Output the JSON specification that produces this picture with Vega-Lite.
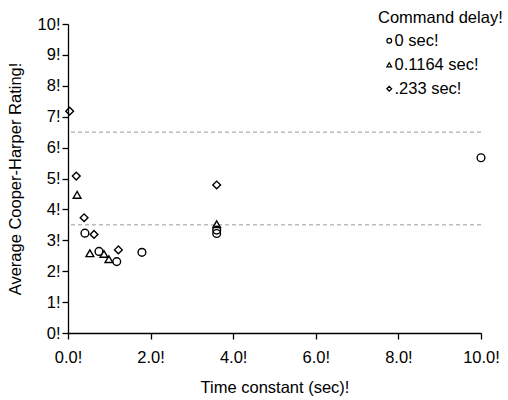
{
  "$schema": "https://vega.github.io/schema/vega-lite/v6.json",
  "width": 413,
  "height": 309,
  "autosize": {"type": "none"},
  "padding": {"left": 68, "top": 24, "right": 27, "bottom": 67},
  "background": "white",
  "config": {
    "font": "Liberation Sans",
    "view": {"stroke": null},
    "axis": {
      "grid": false,
      "domainColor": "black",
      "domainWidth": 1.3,
      "tickColor": "black",
      "tickWidth": 1.3,
      "tickSize": 6,
      "labelColor": "black",
      "labelFontSize": 16.5,
      "labelOverlap": false,
      "labelFlush": false,
      "labelBound": false,
      "titleColor": "black",
      "titleFontSize": 16.5,
      "titleFontWeight": "normal"
    },
    "legend": {
      "titleFontSize": 16.5,
      "titleFontWeight": "normal",
      "titleColor": "black",
      "labelFontSize": 16.5,
      "labelColor": "black"
    }
  },
  "encoding": {
    "y": {
      "field": "rating",
      "type": "quantitative",
      "scale": {"domain": [0, 10], "nice": false},
      "axis": {
        "title": "Average Cooper-Harper Rating!",
        "values": [0, 1, 2, 3, 4, 5, 6, 7, 8, 9, 10],
        "labelExpr": "datum.value + '!'",
        "labelPadding": 2,
        "titlePadding": 14,
        "labelOverlap": false
      }
    }
  },
  "layer": [
    {
      "data": {"values": [{"rating": 6.5}, {"rating": 3.5}]},
      "mark": {"type": "rule", "color": "#999999", "strokeDash": [4, 3], "strokeWidth": 1},
      "encoding": {}
    },
    {
      "data": {
        "values": [
          {"t": 0.41, "rating": 3.23, "delay": "0 sec!"},
          {"t": 0.75, "rating": 2.64, "delay": "0 sec!"},
          {"t": 1.18, "rating": 2.31, "delay": "0 sec!"},
          {"t": 1.79, "rating": 2.61, "delay": "0 sec!"},
          {"t": 3.6, "rating": 3.33, "delay": "0 sec!"},
          {"t": 3.6, "rating": 3.22, "delay": "0 sec!"},
          {"t": 10, "rating": 5.67, "delay": "0 sec!"},
          {"t": 0.22, "rating": 4.47, "delay": "0.1164 sec!"},
          {"t": 0.53, "rating": 2.58, "delay": "0.1164 sec!"},
          {"t": 0.87, "rating": 2.56, "delay": "0.1164 sec!"},
          {"t": 0.99, "rating": 2.39, "delay": "0.1164 sec!"},
          {"t": 3.6, "rating": 3.52, "delay": "0.1164 sec!"},
          {"t": 0.04, "rating": 7.18, "delay": ".233 sec!"},
          {"t": 0.2, "rating": 5.08, "delay": ".233 sec!"},
          {"t": 0.39, "rating": 3.73, "delay": ".233 sec!"},
          {"t": 0.63, "rating": 3.19, "delay": ".233 sec!"},
          {"t": 1.22, "rating": 2.69, "delay": ".233 sec!"},
          {"t": 3.6, "rating": 4.79, "delay": ".233 sec!"}
        ]
      },
      "mark": {"type": "point", "filled": false, "color": "black", "strokeWidth": 1.4, "size": 60, "opacity": 1},
      "encoding": {
        "x": {
          "field": "t",
          "type": "quantitative",
          "scale": {"domain": [0, 10], "nice": false},
          "axis": {
            "title": "Time constant (sec)!",
            "values": [0, 2, 4, 6, 8, 10],
            "labelExpr": "format(datum.value, '.1f') + '!'",
            "labelPadding": 10,
            "titlePadding": 14,
            "labelOverlap": false
          }
        },
        "shape": {
          "field": "delay",
          "type": "nominal",
          "scale": {
            "domain": ["0 sec!", "0.1164 sec!", ".233 sec!"],
            "range": ["circle", "triangle-up", "diamond"]
          },
          "legend": {
            "title": "Command delay!",
            "orient": "none",
            "legendX": 310,
            "legendY": -14,
            "symbolSize": 22,
            "symbolStrokeColor": "black",
            "symbolStrokeWidth": 1.3,
            "symbolFillColor": "transparent",
            "symbolOffset": 3,
            "labelOffset": -3,
            "rowPadding": 7,
            "titlePadding": 6
          }
        }
      }
    }
  ]
}
